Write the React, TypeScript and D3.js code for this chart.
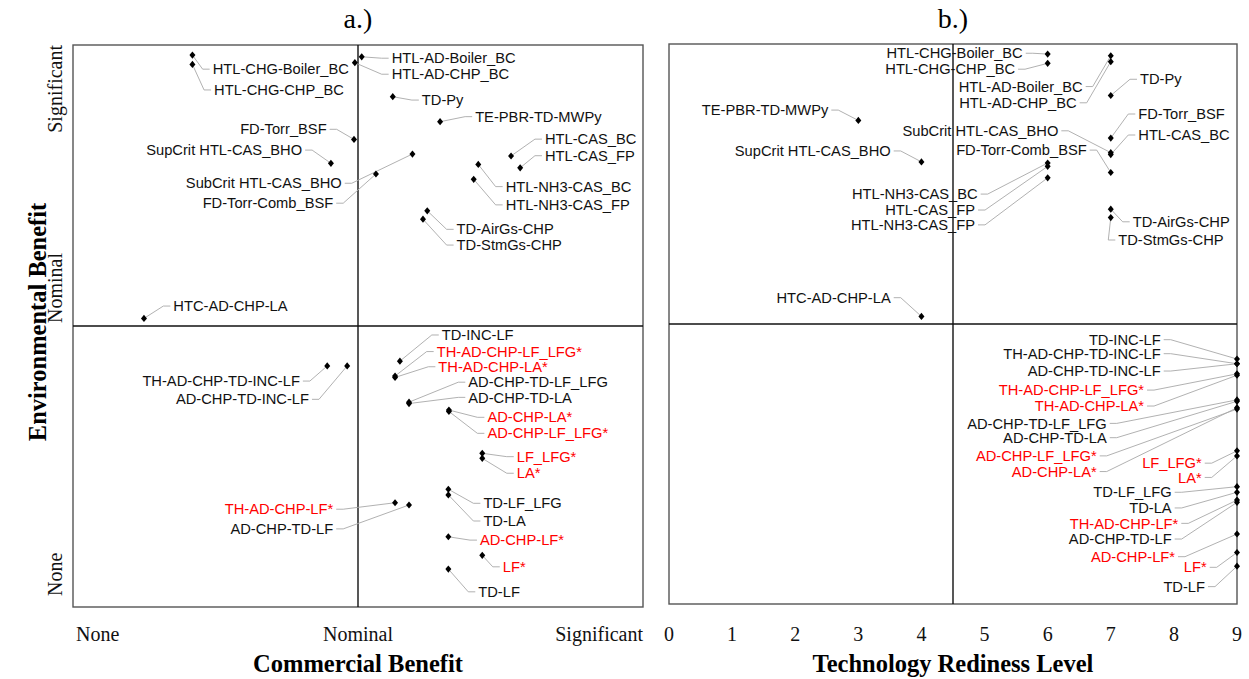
import React, { useEffect } from 'react';
import * as d3 from 'd3';

// ---------- DATA ----------
const names = [
  'HTL-CHG-Boiler_BC', 'HTL-CHG-CHP_BC', 'HTL-AD-Boiler_BC', 'HTL-AD-CHP_BC', 'TD-Py',
  'TE-PBR-TD-MWPy', 'FD-Torr_BSF', 'SupCrit HTL-CAS_BHO', 'SubCrit HTL-CAS_BHO', 'FD-Torr-Comb_BSF',
  'HTL-CAS_BC', 'HTL-CAS_FP', 'HTL-NH3-CAS_BC', 'HTL-NH3-CAS_FP', 'TD-AirGs-CHP',
  'TD-StmGs-CHP', 'HTC-AD-CHP-LA', 'TH-AD-CHP-TD-INC-LF', 'AD-CHP-TD-INC-LF', 'TD-INC-LF',
  'TH-AD-CHP-LF_LFG*', 'TH-AD-CHP-LA*', 'AD-CHP-TD-LF_LFG', 'AD-CHP-TD-LA', 'AD-CHP-LA*',
  'AD-CHP-LF_LFG*', 'LF_LFG*', 'LA*', 'TD-LF_LFG', 'TD-LA',
  'TH-AD-CHP-LF*', 'AD-CHP-TD-LF', 'AD-CHP-LF*', 'LF*', 'TD-LF',
];

// Environmental benefit (0 = None, 1 = Nominal, 2 = Significant)
const envBenefit = [
  1.964, 1.931, 1.958, 1.937, 1.816,
  1.727, 1.664, 1.579, 1.612, 1.541,
  1.605, 1.563, 1.575, 1.522, 1.410,
  1.380, 1.027, 0.858, 0.858, 0.875,
  0.822, 0.817, 0.729, 0.724, 0.701,
  0.696, 0.547, 0.529, 0.419, 0.399,
  0.371, 0.363, 0.250, 0.184, 0.135,
];

// Commercial benefit (0 = None, 1 = Nominal, 2 = Significant)
const commercialBenefit = [
  0.419, 0.419, 1.013, 0.989, 1.122,
  1.288, 0.986, 0.905, 1.191, 1.063,
  1.537, 1.569, 1.422, 1.406, 1.243,
  1.228, 0.249, 0.892, 0.962, 1.147,
  1.130, 1.130, 1.179, 1.179, 1.319,
  1.319, 1.436, 1.436, 1.317, 1.317,
  1.130, 1.179, 1.317, 1.436, 1.317,
];

// Technology readiness level
const trlLevel = [
  6, 6, 7, 7, 7,
  3, 7, 4, 7, 7,
  7, 6, 6, 6, 7,
  7, 4, 9, 9, 9,
  9, 9, 9, 9, 9,
  9, 9, 9, 9, 9,
  9, 9, 9, 9, 9,
];

// Repelled label anchors, panel a (data units)
const labelCommX = [
  0.490, 0.495, 1.118, 1.118, 1.224,
  1.411, 0.890, 0.804, 0.943, 0.913,
  1.656, 1.656, 1.518, 1.518, 1.346,
  1.346, 0.352, 0.796, 0.828, 1.294,
  1.276, 1.282, 1.387, 1.387, 1.454,
  1.454, 1.557, 1.557, 1.440, 1.440,
  0.913, 0.913, 1.428, 1.508, 1.422,
];
const labelCommY = [
  1.914, 1.840, 1.953, 1.896, 1.804,
  1.745, 1.700, 1.626, 1.508, 1.437,
  1.665, 1.606, 1.496, 1.431, 1.344,
  1.288, 1.071, 0.804, 0.739, 0.968,
  0.909, 0.855, 0.800, 0.746, 0.675,
  0.618, 0.535, 0.476, 0.369, 0.306,
  0.348, 0.278, 0.238, 0.143, 0.054,
];

// Repelled label anchors, panel b (data units)
const labelTrlX = [
  5.605, 5.483, 6.555, 6.460, 7.463,
  2.524, 7.436, 3.513, 6.169, 6.619,
  7.436, 4.849, 4.891, 4.849, 7.347,
  7.119, 3.513, 7.791, 7.791, 7.791,
  7.527, 7.527, 6.936, 6.936, 6.777,
  6.777, 8.441, 8.441, 7.965, 7.965,
  8.070, 7.965, 8.018, 8.520, 8.493,
];
const labelTrlY = [
  1.967, 1.910, 1.848, 1.790, 1.874,
  1.764, 1.750, 1.618, 1.690, 1.621,
  1.675, 1.407, 1.464, 1.354, 1.365,
  1.300, 1.094, 0.894, 0.832, 0.944,
  0.764, 0.707, 0.645, 0.594, 0.473,
  0.529, 0.503, 0.452, 0.399, 0.343,
  0.288, 0.232, 0.169, 0.131, 0.062,
];

const benefitTickLabels = ['None', 'Nominal', 'Significant'];
const trlTicks = [0, 1, 2, 3, 4, 5, 6, 7, 8, 9];

// ---------- LAYOUT ----------
const W = 1249;
const H = 679;
const SANS = '"Liberation Sans", Arial, Helvetica, sans-serif';
const SERIF = '"Liberation Serif", "Times New Roman", Times, serif';
const LABEL_SIZE = 14.7;

const diamond = 'M0,-3.6L3,0L0,3.6L-3,0Z';

type Scale = d3.ScaleLinear<number, number>;

function Points({ x, y, px, py, lx, ly, id }: {
  x: Scale; y: Scale; px: number[]; py: number[]; lx: number[]; ly: number[]; id: string;
}) {
  const line = d3.line();
  return (
    <g>
      {names.map((n, i) => {
        const X = x(px[i]);
        const Y = y(py[i]);
        const LX = x(lx[i]);
        const LY = y(ly[i]);
        const s = LX > X ? 1 : -1;
        const path = line([
          [X, Y],
          [LX - s * 10, LY],
          [LX - s * 3, LY],
        ]);
        return (
          <path key={id + 'l' + i} d={path || ''} fill="none" stroke="#a8a8a8" strokeWidth={0.9} />
        );
      })}
      {names.map((n, i) => {
        const X = x(px[i]);
        const LX = x(lx[i]);
        const LY = y(ly[i]);
        const right = LX > X;
        return (
          <text
            key={id + 't' + i}
            x={LX}
            y={LY}
            dy="0.35em"
            textAnchor={right ? 'start' : 'end'}
            fontFamily={SANS}
            fontSize={LABEL_SIZE}
            fill={n.endsWith('*') ? '#ff0000' : '#111'}
          >
            {n}
          </text>
        );
      })}
      {names.map((n, i) => (
        <path
          key={id + 'p' + i}
          d={diamond}
          transform={`translate(${x(px[i])},${y(py[i])})`}
          fill="#000"
        />
      ))}
    </g>
  );
}

function Frame({ x, y, xMid, yMid }: { x: Scale; y: Scale; xMid: number; yMid: number }) {
  const [x0, x1] = x.range();
  const [y0, y1] = y.range();
  return (
    <g>
      <rect x={x0} y={y1} width={x1 - x0} height={y0 - y1} fill="none" stroke="#555" strokeWidth={1.4} />
      <line x1={x(xMid)} x2={x(xMid)} y1={y1} y2={y0} stroke="#111" strokeWidth={1.4} />
      <line x1={x0} x2={x1} y1={y(yMid)} y2={y(yMid)} stroke="#111" strokeWidth={1.4} />
    </g>
  );
}

export default function App() {
  useEffect(() => {
    document.body.style.margin = '0';
  }, []);

  const xA = d3.scaleLinear().domain([0, 2]).range([73, 643]);
  const yA = d3.scaleLinear().domain([0, 2]).range([607, 45]);
  const xB = d3.scaleLinear().domain([0, 9]).range([669, 1237]);
  const yB = d3.scaleLinear().domain([0, 2]).range([604, 44]);

  const tickY = 641;

  return (
    <svg
      width={W}
      height={H}
      viewBox={`0 0 ${W} ${H}`}
      style={{ position: 'fixed', left: 0, top: 0, display: 'block', background: '#fff' }}
    >
      <rect x={0} y={0} width={W} height={H} fill="#fff" />

      {/* Titles */}
      <text x={xA(1)} y={28} textAnchor="middle" fontFamily={SERIF} fontSize={28} fill="#000">a.)</text>
      <text x={xB(4.5)} y={28} textAnchor="middle" fontFamily={SERIF} fontSize={28} fill="#000">b.)</text>

      {/* Panel a */}
      <Frame x={xA} y={yA} xMid={1} yMid={1} />
      <Points x={xA} y={yA} px={commercialBenefit} py={envBenefit} lx={labelCommX} ly={labelCommY} id="a" />

      {benefitTickLabels.map((t, i) => (
        <text
          key={'xa' + t}
          x={i === 0 ? xA(i) + 3 : xA(i)}
          y={tickY}
          textAnchor={i === 0 ? 'start' : i === 1 ? 'middle' : 'end'}
          fontFamily={SERIF}
          fontSize={20}
          fill="#111"
        >
          {t}
        </text>
      ))}
      {benefitTickLabels.map((t, i) => {
        const yy = i === 0 ? yA(i) - 11 : i === 1 ? yA(i) - 3 : yA(i);
        return (
          <text
            key={'ya' + t}
            transform={`translate(62,${yy}) rotate(-90)`}
            textAnchor={i === 2 ? 'end' : 'start'}
            fontFamily={SERIF}
            fontSize={20}
            fill="#111"
          >
            {t}
          </text>
        );
      })}
      <text
        transform={`translate(46,${yA(1) - 4}) rotate(-90)`}
        textAnchor="middle"
        fontFamily={SERIF}
        fontWeight="bold"
        fontSize={24.5}
        fill="#000"
      >
        Environmental Benefit
      </text>
      <text x={xA(1)} y={672} textAnchor="middle" fontFamily={SERIF} fontWeight="bold" fontSize={24.5} fill="#000">
        Commercial Benefit
      </text>

      {/* Panel b */}
      <Frame x={xB} y={yB} xMid={4.5} yMid={1} />
      <Points x={xB} y={yB} px={trlLevel} py={envBenefit} lx={labelTrlX} ly={labelTrlY} id="b" />
      {trlTicks.map((t) => (
        <text key={'xb' + t} x={xB(t)} y={tickY} textAnchor="middle" fontFamily={SERIF} fontSize={20} fill="#111">
          {t}
        </text>
      ))}
      <text x={xB(4.5)} y={672} textAnchor="middle" fontFamily={SERIF} fontWeight="bold" fontSize={24.5} fill="#000">
        Technology Rediness Level
      </text>
    </svg>
  );
}
